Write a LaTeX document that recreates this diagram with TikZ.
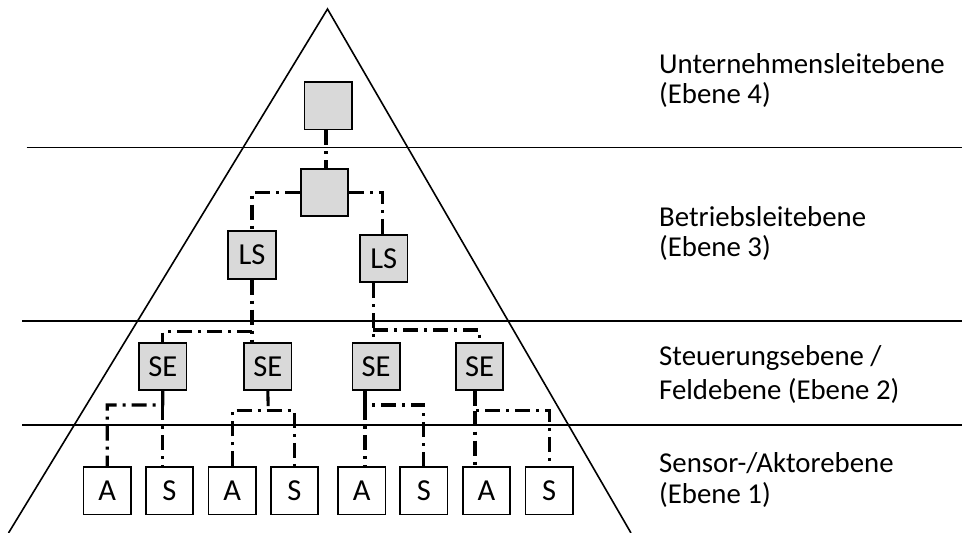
\documentclass[tikz,border=0pt]{standalone}
\usepackage{fontspec}
\setmainfont{Carlito}
\definecolor{boxgray}{RGB}{217,217,217}
\begin{document}
\begin{tikzpicture}[x=1pt,y=-1pt,
  box/.style={draw=black, line width=1.6pt, fill=boxgray, minimum size=47.5pt, inner sep=0pt, font=\fontsize{30.5}{33}\selectfont},
  wbox/.style={box, fill=white},
  conn/.style={line width=3.1pt, dash pattern=on 15pt off 6pt on 3pt off 6pt},
  lvl/.style={anchor=base west, inner sep=0pt, font=\fontsize{28.8}{31}\selectfont},
  frameline/.style={line width=1.8pt}]
\useasboundingbox (0,0) rectangle (962,533);
\fill[white] (0,0) rectangle (962,533);
% level separators
\coordinate (h1l) at (26.7,147.5); \coordinate (h1r) at (962,147.5);
\coordinate (h2l) at (22.3,321);   \coordinate (h2r) at (962,321);
\coordinate (h3l) at (22.3,425);   \coordinate (h3r) at (962,425);
\draw[frameline] (h1l) -- (h1r);
\draw[frameline] (h2l) -- (h2r);
\draw[frameline] (h3l) -- (h3r);
% pyramid
\coordinate (pl) at (8.5,533); \coordinate (pa) at (327.5,9); \coordinate (pr) at (631,533);
\draw[line width=1.6pt] (pl) -- (pa) -- (pr);
% boxes
\node[box] (T) at (328.3,105.7) {};
\node[box] (M) at (324.5,192.5) {};
\node[box] (LS1) at (252,255) {LS};
\node[box] (LS2) at (383.7,258.5) {LS};
\node[box] (SE1) at (162.8,366.5) {SE};
\node[box] (SE2) at (267.8,366.5) {SE};
\node[box] (SE3) at (376.2,366.5) {SE};
\node[box] (SE4) at (479.5,366.5) {SE};
\node[wbox] (A1) at (107.2,490.8) {A};
\node[wbox] (S1) at (169.5,490.8) {S};
\node[wbox] (A2) at (232.2,490.8) {A};
\node[wbox] (S2) at (294.5,490.8) {S};
\node[wbox] (A3) at (361.7,490.8) {A};
\node[wbox] (S3) at (423.8,490.8) {S};
\node[wbox] (A4) at (486.5,490.8) {A};
\node[wbox] (S4) at (549.2,490.8) {S};
% connectors
\draw[conn] ([xshift=-2.3pt]T.south) -- ([xshift=-2.3pt]T.south |- M.north);
\draw[conn] (M.west) -| (LS1.north);
\draw[conn] (M.east) -| ([xshift=-1pt]LS2.north);
\draw[conn] (LS1.south) -- (LS1.south |- SE2.north);
\coordinate (j1) at (252,331.7);
\draw[conn] (j1) -| (SE1.north);
\draw[conn] ([xshift=-10.5pt]LS2.south) -- ([xshift=-10.5pt]LS2.south |- SE3.north);
\coordinate (j2) at (373.2,330);
\draw[conn] (j2) -| (SE4.north);
\coordinate (k1) at (162.7,405);
\draw[conn] (SE1.south) -- (k1) -| (A1.north);
\draw[conn] (k1) -- (k1 |- S1.north);
\coordinate (k2) at (268.3,410.7);
\draw[conn] (SE2.south) -- (k2);
\draw[conn] (A2.north) |- (k2 -| S2.north) -- (S2.north);
\coordinate (k3) at (365,405);
\draw[conn] ([xshift=-11.2pt]SE3.south) -- (k3) -- (k3 -| S3.north) -- (S3.north);
\draw[conn] (k3) -- (k3 |- A3.north);
\coordinate (k4) at (475,410.7);
\draw[conn] ([xshift=-4.5pt]SE4.south) -- (k4) -- (k4 -| S4.north) -- (S4.north);
\draw[conn] (k4) -- (k4 |- A4.north);
% level labels
\node[lvl] (t1a) at (659,73.3) {Unternehmensleitebene};
\node[lvl] (t1b) at (659,103.3) {(Ebene 4)};
\node[lvl] (t2a) at (659,226.7) {Betriebsleitebene};
\node[lvl] (t2b) at (659,256.7) {(Ebene 3)};
\node[lvl] (t3a) at (659,365) {Steuerungsebene /};
\node[lvl] (t3b) at (659,399) {Feldebene (Ebene 2)};
\node[lvl] (t4a) at (659,472) {Sensor-/Aktorebene};
\node[lvl] (t4b) at (659,503.5) {(Ebene 1)};
\end{tikzpicture}
\end{document}
